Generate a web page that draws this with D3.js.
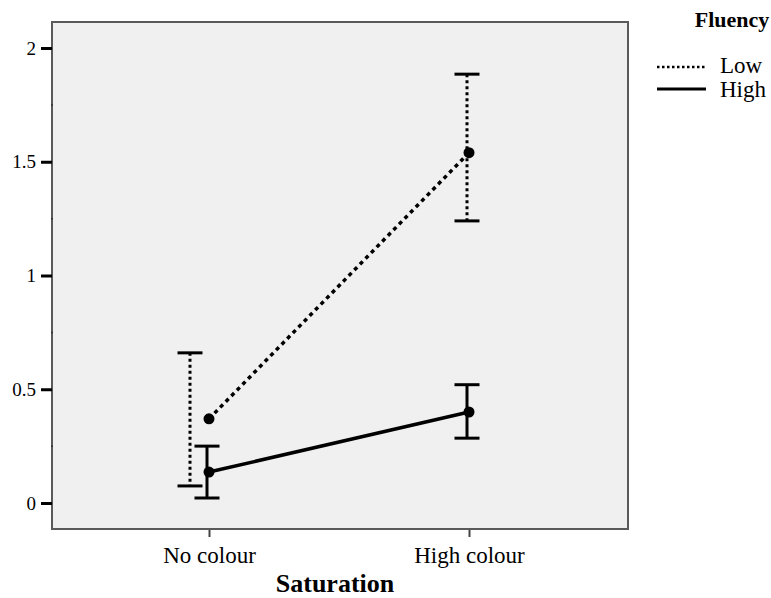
<!DOCTYPE html>
<html>
<head>
<meta charset="utf-8">
<script src="https://cdn.jsdelivr.net/npm/d3@7"></script>
<style>
  body { margin: 0; background: #fff; }
  svg text { font-family: "Liberation Serif", "Times New Roman", serif; fill: #000; }
</style>
</head>
<body>
<div id="Chart"></div>
<script>
// categories and values
var categories = ["No colour", "High colour"];
var series = ["Low", "High"];
var lowMean  = [0.37, 1.54];
var lowUpper = [0.66, 1.885];
var lowLower = [0.075, 1.24];
var highMean  = [0.136, 0.40];
var highUpper = [0.25, 0.52];
var highLower = [0.022, 0.285];
var yTicks = [0, 0.5, 1, 1.5, 2];

var margin = {top: 22, right: 143, bottom: 69, left: 52},
    width = 771 - margin.left - margin.right,
    height = 598 - margin.top - margin.bottom;

var svg = d3.select("#Chart")
    .append("svg")
    .attr("width", 771)
    .attr("height", 598)
    .attr("class", "chart");

var g = svg.append("g")
    .attr("transform", "translate(" + margin.left + "," + margin.top + ")");

var x = d3.scalePoint().domain(categories).range([157, 417]);
var y = d3.scaleLinear().domain([0, 2]).range([481, 26]);

// plot background
g.append("rect")
    .attr("width", width)
    .attr("height", height)
    .attr("fill", "#f0f0f0")
    .attr("stroke", "#5a5a5a")
    .attr("stroke-width", 2);

// y axis
var yAxis = d3.axisLeft(y).tickValues(yTicks).tickSize(11).tickPadding(5)
    .tickFormat(function(d) { return d; });
var ya = g.append("g").call(yAxis);
ya.select(".domain").remove();
ya.selectAll("line").attr("stroke", "#000").attr("stroke-width", 3);
ya.selectAll("text").style("font-size", "19px");

// small minor ticks on the frame
g.selectAll(".minor")
    .data([0.25, 0.75, 1.25, 1.75])
    .enter().append("line")
    .attr("x1", -1).attr("x2", 1)
    .attr("y1", function(d) { return y(d); })
    .attr("y2", function(d) { return y(d); })
    .attr("stroke", "#333").attr("stroke-width", 1.5);

// x axis
var xAxis = d3.axisBottom(x).tickSize(8);
var xa = g.append("g")
    .attr("transform", "translate(0," + height + ")")
    .call(xAxis);
xa.select(".domain").remove();
xa.selectAll("line").attr("stroke", "#444").attr("stroke-width", 2).attr("y1", 1);
xa.selectAll("text").attr("y", 34).attr("dy", 0).style("font-size", "23px");

g.append("text")
    .attr("x", 283)
    .attr("y", 570)
    .attr("text-anchor", "middle")
    .style("font-size", "26px")
    .style("font-weight", "bold")
    .text("Saturation");

var dotted = "3,3";

function drawSeries(mean, upper, lower, dash, barShift) {
  var idx = d3.range(categories.length);
  var line = d3.line()
      .x(function(i) { return x(categories[i]); })
      .y(function(i) { return y(mean[i]); });

  // error bars
  idx.forEach(function(i) {
    var cx = x(categories[i]) + barShift[i];
    g.append("line")
        .attr("x1", cx).attr("x2", cx)
        .attr("y1", y(upper[i])).attr("y2", y(lower[i]))
        .attr("stroke", "#000").attr("stroke-width", 3)
        .attr("stroke-dasharray", dash);
    [upper[i], lower[i]].forEach(function(v) {
      g.append("line")
          .attr("x1", cx - 12.5).attr("x2", cx + 12.5)
          .attr("y1", y(v)).attr("y2", y(v))
          .attr("stroke", "#000").attr("stroke-width", 3);
    });
  });

  g.append("path")
      .datum(idx)
      .attr("d", line)
      .attr("fill", "none")
      .attr("stroke", "#000")
      .attr("stroke-width", 3.5)
      .attr("stroke-dasharray", dash === "none" ? null : "4,4");

  g.selectAll(null)
      .data(idx)
      .enter().append("circle")
      .attr("cx", function(i) { return x(categories[i]); })
      .attr("cy", function(i) { return y(mean[i]); })
      .attr("r", 5.5)
      .attr("fill", "#000");
}

drawSeries(lowMean, lowUpper, lowLower, dotted, [-19, -2]);
drawSeries(highMean, highUpper, highLower, "none", [-2, -2]);

// legend
var lg = svg.append("g");
lg.append("text")
    .attr("x", 732).attr("y", 27)
    .attr("text-anchor", "middle")
    .style("font-size", "22px")
    .style("font-weight", "bold")
    .text("Fluency");
lg.selectAll(".lgl")
    .data(series)
    .enter().append("line")
    .attr("x1", 657).attr("x2", 706)
    .attr("y1", function(d, i) { return 67 + i * 22; })
    .attr("y2", function(d, i) { return 67 + i * 22; })
    .attr("stroke", "#000")
    .attr("stroke-width", function(d, i) { return i === 0 ? 2.5 : 3; })
    .attr("stroke-dasharray", function(d, i) { return i === 0 ? "2.5,2.5" : null; });
lg.selectAll(".lgt")
    .data(series)
    .enter().append("text")
    .attr("x", 720)
    .attr("y", function(d, i) { return 73 + i * 24; })
    .style("font-size", "23px")
    .text(function(d) { return d; });
</script>
</body>
</html>
